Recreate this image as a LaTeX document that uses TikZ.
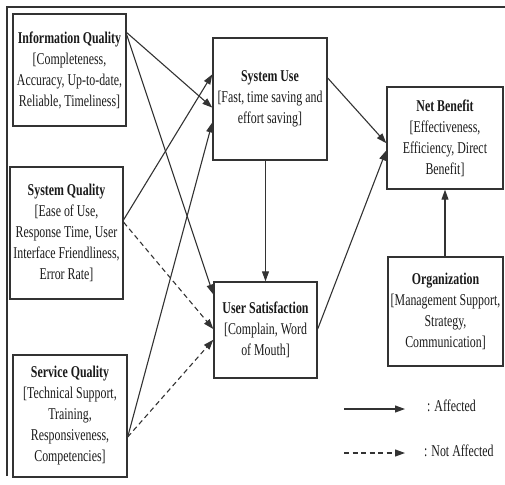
\documentclass[tikz,border=0pt]{standalone}
\usepackage{fontspec}
\setmainfont{Liberation Serif}[FakeStretch=0.72]
\usetikzlibrary{arrows.meta,calc}
\definecolor{ln}{HTML}{333333}
\definecolor{tx}{HTML}{1A1A1A}
\begin{document}
\begin{tikzpicture}[x=1pt,y=-1pt,
  box/.style={draw=ln, line width=1.4pt, align=center, inner sep=0pt, text=tx,
    font=\fontsize{16.5}{21}\selectfont},
  conn/.style={draw=ln, line width=1.1pt, -{Triangle[length=10pt,width=7pt]}},
  dconn/.style={conn, dash pattern=on 5pt off 3.5pt},
  lbl/.style={anchor=west, inner sep=0pt, text=tx, font=\fontsize{16.5}{21}\selectfont}]
\useasboundingbox (0,0) rectangle (505,484);
% outer frame (top and left visible)
\draw[ln, line width=1.2pt] (7,476) -- (7,7) -- (505,7);
% boxes
\node[box, minimum width=113pt, minimum height=112pt] (iq) at (69.5,70)
  {\textbf{Information Quality}\\{[}Completeness,\\Accuracy, Up-to-date,\\Reliable, Timeliness]};
\node[box, minimum width=113pt, minimum height=132pt] (sq) at (66.5,233)
  {\textbf{System Quality}\\{[}Ease of Use,\\Response Time, User\\Interface Friendliness,\\Error Rate]};
\node[box, minimum width=114pt, minimum height=122pt] (svq) at (70,416)
  {\textbf{Service Quality}\\{[}Technical Support,\\Training,\\Responsiveness,\\Competencies]};
\node[box, minimum width=114pt, minimum height=122pt] (su) at (270,99)
  {\textbf{System Use}\\{[}Fast, time saving and\\effort saving]};
\node[box, minimum width=103pt, minimum height=96pt] (us) at (265.5,330)
  {\textbf{User Satisfaction}\\{[}Complain, Word\\of Mouth]};
\node[box, minimum width=116pt, minimum height=102pt] (nb) at (445,138)
  {\textbf{Net Benefit}\\{[}Effectiveness,\\Efficiency, Direct\\Benefit]};
\node[box, minimum width=115pt, minimum height=109pt] (org) at (445.5,311.5)
  {\textbf{Organization}\\{[}Management Support,\\Strategy,\\Communication]};
% connectors
\draw[conn] ($(iq.north east)!0.17!(iq.south east)$) -- ($(su.north west)!0.57!(su.south west)$);
\draw[conn] ($(iq.north east)!0.19!(iq.south east)$) -- ($(us.north west)!0.135!(us.south west)$);
\draw[conn] ($(sq.north east)!0.40!(sq.south east)$) -- ($(su.north west)!0.30!(su.south west)$);
\draw[dconn] ($(sq.north east)!0.42!(sq.south east)$) -- ($(us.north west)!0.49!(us.south west)$);
\draw[conn] ($(svq.north east)!0.67!(svq.south east)$) -- ($(su.north west)!0.69!(su.south west)$);
\draw[dconn] ($(svq.north east)!0.67!(svq.south east)$) -- ($(us.north west)!0.60!(us.south west)$);
\draw[conn] ($(su.north east)!0.33!(su.south east)$) -- ($(nb.north west)!0.55!(nb.south west)$);
\draw[conn] ($(us.north east)!0.49!(us.south east)$) -- ($(nb.north west)!0.62!(nb.south west)$);
\draw[conn] (su.south -| us.north) -- (us.north);
\draw[conn] (org.north -| nb.south) -- (nb.south);
% legend
\coordinate (a1) at (344,409);
\coordinate (a2) at (405,409);
\coordinate (b1) at (344,453);
\coordinate (b2) at (405,453);
\draw[conn] (a1) -- (a2);
\draw[dconn] (b1) -- (b2);
\node[lbl] (la) at (427,406) {: Affected};
\node[lbl] (lb) at (424,451) {: Not Affected};
\end{tikzpicture}
\end{document}
